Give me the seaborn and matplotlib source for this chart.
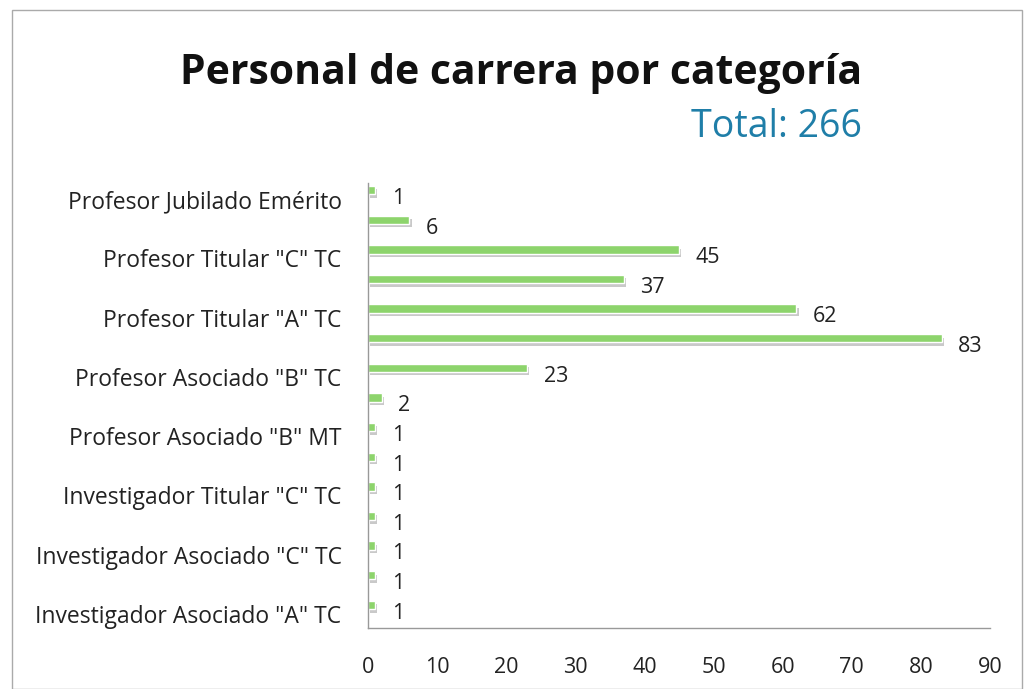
import matplotlib
matplotlib.use("Agg")
import matplotlib.pyplot as plt
import matplotlib.patheffects as pe
import matplotlib.transforms as mtransforms
from matplotlib.patches import Rectangle
import seaborn as sns
import pandas as pd

categories = [
    'Profesor Jubilado Emérito',
    'Profesor Titular "C" MT',
    'Profesor Titular "C" TC',
    'Profesor Titular "B" TC',
    'Profesor Titular "A" TC',
    'Profesor Asociado "C" TC',
    'Profesor Asociado "B" TC',
    'Profesor Asociado "C" MT',
    'Profesor Asociado "B" MT',
    'Investigador Titular "A" TC',
    'Investigador Titular "C" TC',
    'Investigador Asociado "D" TC',
    'Investigador Asociado "C" TC',
    'Investigador Asociado "B" TC',
    'Investigador Asociado "A" TC',
]
values = [1, 6, 45, 37, 62, 83, 23, 2, 1, 1, 1, 1, 1, 1, 1]
shown_labels = [i % 2 == 0 for i in range(len(categories))]
x_ticks = [0, 10, 20, 30, 40, 50, 60, 70, 80, 90]
title = "Personal de carrera por categoría"
subtitle = "Total: 266"

df = pd.DataFrame({"cat": categories, "val": values})

sns.set_theme(style="white")
plt.rcParams["font.family"] = ["Open Sans", "DejaVu Sans"]

fig = plt.figure(figsize=(10.25, 6.89), dpi=100)
ax = fig.add_axes([368 / 1025, 1 - 628 / 689, (990 - 368) / 1025, (628 - 183) / 689])

sns.barplot(data=df, y="cat", x="val", orient="h", color="#8DD46C",
            width=0.28, ax=ax, saturation=1)
for p in ax.patches:
    p.set_path_effects([pe.SimplePatchShadow(offset=(1.5, -2.5), shadow_rgbFace="#666666", alpha=0.35),
                        pe.Normal()])

ax.set_xlim(0, 90)
ax.set_ylim(len(categories) - 1 + 0.78, -0.24)
ax.set_xticks(x_ticks)
ax.set_xticklabels([str(t) for t in x_ticks], fontsize=15.5, color="#222222")
ax.set_yticks(range(len(categories)))
ax.set_yticklabels([c if s else "" for c, s in zip(categories, shown_labels)],
                   fontsize=16.5, color="#222222")
ax.tick_params(axis="x", length=0, pad=21)
ax.tick_params(axis="y", length=0, pad=19)
shift = mtransforms.ScaledTranslation(0, -9 / 100, fig.dpi_scale_trans)
for lbl in ax.get_yticklabels():
    lbl.set_transform(lbl.get_transform() + shift)
ax.set_xlabel("")
ax.set_ylabel("")

for s in ["top", "right"]:
    ax.spines[s].set_visible(False)
for s in ["left", "bottom"]:
    ax.spines[s].set_color("#999999")
    ax.spines[s].set_linewidth(1.0)

for i, v in enumerate(values):
    ax.annotate(str(v), xy=(v, i), xytext=(12, -6), textcoords="offset points",
                ha="left", va="center", fontsize=15.5, color="#222222")

fig.text(862 / 1025, 1 - 74 / 689, title, ha="right", va="center",
         fontsize=29.4, fontweight="bold", color="#111111")
fig.text(862 / 1025, 1 - 127 / 689, subtitle, ha="right", va="center",
         fontsize=27, color="#1F7EA8")

fig.add_artist(Rectangle((12 / 1025, 0), 1010 / 1025, 1 - 10 / 689,
                         transform=fig.transFigure, fill=False,
                         edgecolor="#AAAAAA", linewidth=1))

fig.savefig("out.png", dpi=100)
